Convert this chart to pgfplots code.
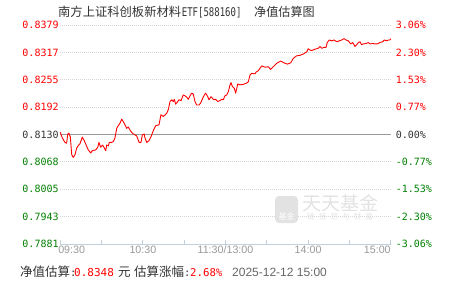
\documentclass[border=0pt]{standalone}
\usepackage{pgfplots}
\pgfplotsset{compat=1.18}
\usepackage{fontspec}
\setmainfont{Liberation Sans}
\newfontfamily\cjk{Noto Sans CJK SC}
\newfontfamily\mono{DejaVu Sans Mono}
\newfontfamily\monon[FakeStretch=0.75]{DejaVu Sans Mono}
\definecolor{upred}{HTML}{FF0000}
\definecolor{dngreen}{HTML}{008000}
\definecolor{zerodark}{HTML}{333333}
\definecolor{axisblue}{HTML}{C2D0DC}
\definecolor{gridgray}{HTML}{D6D6D6}
\definecolor{zerogray}{HTML}{999999}
\definecolor{labelgray}{HTML}{999999}
\definecolor{wm}{HTML}{E2E2E2}
\begin{document}
\begin{tikzpicture}
\path[use as bounding box] (0,0) rectangle (451pt,-281pt);
\begin{axis}[
  at={(60.3pt,-244pt)}, anchor=south west,
  scale only axis, width=330.4pt, height=219pt,
  xmin=0, xmax=240, ymin=0.7881, ymax=0.8379,
  axis x line*=bottom, axis y line*=left,
  x axis line style={draw=axisblue, line width=0.9pt, -},
  y axis line style={draw=none},
  xtick pos=bottom, ytick pos=left,
  xtick={0,60,120,180,240},
  xticklabels={\makebox[0pt][l]{\hspace*{-2pt}09:30},10:30,11:30/13:00,14:00,\makebox[0pt][r]{15:00}},
  minor xtick={30,90,150,210},
  tick align=inside, major tick length=4pt, minor tick length=4pt,
  xtick style={draw=axisblue, line width=0.9pt},
  every minor tick/.append style={draw=axisblue, line width=0.9pt},
  xticklabel style={font=\fontsize{10.7}{12}\selectfont, text=labelgray, inner sep=2pt},
  ytick={0.7881,0.794325,0.80055,0.806775,0.8130,0.819225,0.82545,0.831675,0.8379},
  yticklabels={\textcolor{dngreen}{0.7881},\textcolor{dngreen}{0.7943},\textcolor{dngreen}{0.8005},\textcolor{dngreen}{0.8068},\textcolor{zerodark}{0.8130},\textcolor{upred}{0.8192},\textcolor{upred}{0.8255},\textcolor{upred}{0.8317},\textcolor{upred}{0.8379}},
  ytick style={draw=none},
  yticklabel style={font=\mono\fontsize{10}{12}\selectfont, inner sep=1.5pt},
  ymajorgrids,
  grid style={gridgray, line width=0.8pt, dash pattern=on 1pt off 1pt},
  clip=false,
]
\addplot[zerogray, line width=1.2pt, forget plot] coordinates {(0,0.8130) (240,0.8130)};
\addplot[upred, line width=0.9pt, line join=round] coordinates {
(0,0.8135) (1.5,0.8122) (3.4,0.8112) (4.6,0.8110) (5.4,0.8131) (6.3,0.8133) (7.3,0.8124) (8.3,0.8084) (9.4,0.8078) (10.7,0.8084) (11.9,0.8099) (13.1,0.8105) (14.3,0.8109) (16.0,0.8124) (17.4,0.8116) (19.2,0.8103) (20.3,0.8095) (22.1,0.8088) (23.2,0.8093) (25.7,0.8095) (27.2,0.8101) (28.1,0.8112) (29.3,0.8101) (30.8,0.8106) (32.0,0.8099) (33.0,0.8093) (33.7,0.8106) (34.9,0.8104) (35.6,0.8112) (37.3,0.8112) (38.5,0.8114) (39.7,0.8122) (41.0,0.8144) (42.1,0.8150) (43.4,0.8156) (44.6,0.8165) (45.8,0.8159) (47.0,0.8152) (48.2,0.8144) (49.4,0.8147) (50.6,0.8140) (52.3,0.8133) (54.3,0.8129) (55.5,0.8127) (57.2,0.8112) (58.6,0.8112) (59.6,0.8129) (61.0,0.8131) (61.5,0.8122) (62.8,0.8112) (64.4,0.8116) (65.9,0.8125) (67.6,0.8139) (69.3,0.8150) (71.7,0.8152) (73.1,0.8175) (74.8,0.8171) (77.3,0.8178) (78.5,0.8187) (79.7,0.8205) (80.9,0.8209) (82.1,0.8205) (82.8,0.8210) (83.8,0.8199) (85.3,0.8205) (86.2,0.8209) (87.7,0.8207) (89.3,0.8220) (90.6,0.8218) (91.8,0.8215) (93.0,0.8210) (94.2,0.8218) (95.4,0.8224) (96.6,0.8222) (97.8,0.8205) (99.1,0.8197) (100.8,0.8197) (102.0,0.8202) (103.1,0.8210) (104.6,0.8220) (105.6,0.8224) (107.1,0.8216) (108.0,0.8209) (109.5,0.8216) (111.1,0.8210) (112.9,0.8210) (114.3,0.8205) (116.0,0.8207) (117.2,0.8210) (118.4,0.8209) (119.6,0.8218) (120.9,0.8220) (122.0,0.8227) (123.3,0.8243) (124.0,0.8248) (124.9,0.8240) (126.4,0.8235) (127.4,0.8224) (128.9,0.8245) (130.5,0.8243) (132.9,0.8244) (135.4,0.8247) (136.6,0.8250) (137.8,0.8265) (139.0,0.8269) (141.4,0.8268) (142.2,0.8272) (143.8,0.8275) (146.3,0.8286) (148.7,0.8283) (151.1,0.8284) (152.8,0.8278) (154.7,0.8284) (157.2,0.8292) (160.1,0.8297) (162.5,0.8293) (164.9,0.8290) (167.4,0.8293) (169.2,0.8303) (171.7,0.8309) (174.1,0.8310) (176.5,0.8313) (179.0,0.8318) (180.1,0.8325) (181.4,0.8322) (182.6,0.8321) (185.0,0.8324) (187.4,0.8326) (188.6,0.8330) (189.9,0.8326) (191.5,0.8328) (193.0,0.8328) (193.9,0.8339) (195.4,0.8345) (197.1,0.8343) (198.8,0.8345) (200.8,0.8341) (202.7,0.8343) (204.4,0.8345) (206.1,0.8348) (207.5,0.8345) (209.2,0.8343) (210.9,0.8336) (212.4,0.8339) (214.1,0.8330) (215.3,0.8334) (216.5,0.8339) (217.7,0.8341) (218.9,0.8334) (220.1,0.8336) (222.1,0.8337) (223.7,0.8339) (225.0,0.8336) (226.9,0.8337) (228.6,0.8336) (230.3,0.8336) (232.2,0.8339) (234.2,0.8341) (235.4,0.8345) (237.1,0.8343) (238.3,0.8345) (239.5,0.8345) (240,0.8348)
};
\end{axis}
\begin{axis}[
  at={(60.3pt,-244pt)}, anchor=south west,
  scale only axis, width=330.4pt, height=219pt,
  xmin=0, xmax=240, ymin=-3.06, ymax=3.06,
  hide x axis,
  axis y line*=right,
  y axis line style={draw=none},
  ytick style={draw=none},
  ytick={-3.06,-2.295,-1.53,-0.765,0,0.765,1.53,2.295,3.06},
  yticklabels={\textcolor{dngreen}{-3.06\%},\textcolor{dngreen}{-2.30\%},\textcolor{dngreen}{-1.53\%},\textcolor{dngreen}{-0.77\%},\textcolor{zerodark}{0.00\%},\textcolor{upred}{0.77\%},\textcolor{upred}{1.53\%},\textcolor{upred}{2.30\%},\textcolor{upred}{3.06\%}},
  yticklabel style={font=\mono\fontsize{10}{12}\selectfont, anchor=west, inner sep=0pt, xshift=5pt},
]
\addplot[draw=none] coordinates {(0,0)};
\end{axis}
% title
\node[anchor=base west, inner sep=0pt, text=zerodark] at (58pt,-16.7pt) {\cjk\fontsize{12.3}{14}\selectfont 南方上证科创板新材料};
\node[anchor=base west, inner sep=0pt, text=zerodark] at (181.7pt,-16.7pt) {\monon\fontsize{12}{14}\selectfont ETF[588160]};
\node[anchor=base west, inner sep=0pt, text=zerodark] at (254pt,-16.7pt) {\cjk\fontsize{12.1}{14}\selectfont 净值估算图};
% footer
\node[anchor=base west, inner sep=0pt, text=zerodark] at (20pt,-276.3pt) {\cjk\fontsize{12.5}{14}\selectfont 净值估算\mono\fontsize{10.5}{12}\selectfont :};
\node[anchor=base west, inner sep=0pt, text=upred] at (74pt,-276.3pt) {\mono\fontsize{11}{12}\selectfont 0.8348};
\node[anchor=base west, inner sep=0pt, text=zerodark] at (118pt,-276.3pt) {\cjk\fontsize{12.5}{14}\selectfont 元};
\node[anchor=base west, inner sep=0pt, text=zerodark] at (134pt,-276.3pt) {\cjk\fontsize{12.5}{14}\selectfont 估算涨幅\mono\fontsize{10.5}{12}\selectfont :};
\node[anchor=base west, inner sep=0pt, text=upred] at (190pt,-276.3pt) {\mono\fontsize{10.7}{12}\selectfont 2.68\%};
\node[anchor=base west, inner sep=0pt, text=black!60] at (232pt,-276.3pt) {\fontsize{12}{14}\selectfont 2025-12-12 15:00};
% watermark
\fill[wm, rounded corners=4pt] (275pt,-196pt) rectangle (298pt,-223pt);
\node[text=white, inner sep=0pt] at (286.5pt,-216pt) {\cjk\fontsize{8}{9}\selectfont 基金};
\node[anchor=west, inner sep=0pt, text=wm] at (302pt,-203pt) {\cjk\fontsize{19}{20}\selectfont 天天基金};
\node[anchor=west, inner sep=0pt, text=wm] at (307pt,-216.5pt) {\cjk\fontsize{7.5}{8}\selectfont 链\hspace{4.2pt}接\hspace{4.2pt}您\hspace{4.2pt}与\hspace{4.2pt}财\hspace{4.2pt}富};
\end{tikzpicture}
\end{document}
